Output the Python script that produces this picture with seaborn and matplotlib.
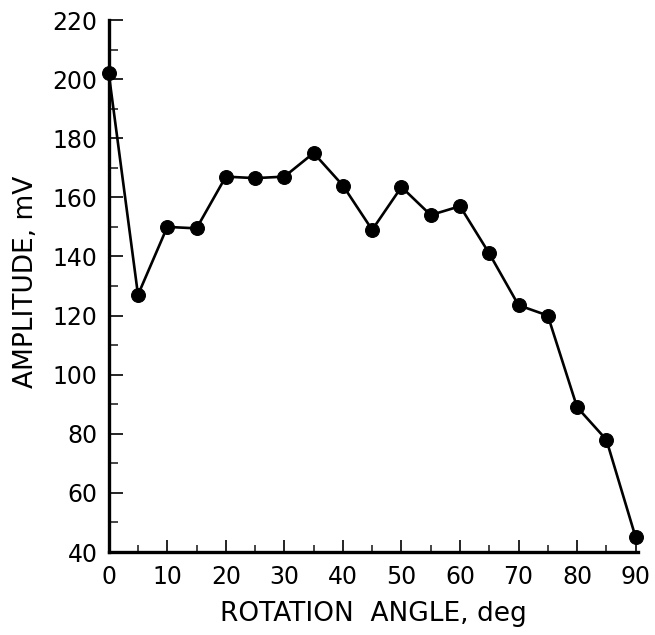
import matplotlib
matplotlib.use("Agg")
import matplotlib.pyplot as plt
import seaborn as sns
import pandas as pd
from matplotlib.ticker import MultipleLocator

angle_deg = [0, 5, 10, 15, 20, 25, 30, 35, 40, 45, 50, 55, 60, 65, 70, 75, 80, 85, 90]
amplitude_mv = [202, 127, 150, 149.5, 167, 166.5, 167, 175, 164, 149, 163.5, 154, 157,
                141, 123.5, 120, 89, 78, 45]
x_ticks = [0, 10, 20, 30, 40, 50, 60, 70, 80, 90]
y_ticks = [40, 60, 80, 100, 120, 140, 160, 180, 200, 220]

df = pd.DataFrame({"angle": angle_deg, "amp": amplitude_mv})

sns.set_style("ticks")
plt.rcParams["font.family"] = ["DejaVu Sans"]

fig = plt.figure(figsize=(6.55, 6.35), dpi=100)
ax = fig.add_axes([0.166, 0.1307, 0.808, 0.8378])

sns.lineplot(data=df, x="angle", y="amp", ax=ax, color="black", linewidth=1.9,
             marker="o", markersize=10, markeredgecolor="black", markerfacecolor="black",
             clip_on=False)

ax.set_xlim(0, 90.4)
ax.set_ylim(40, 220)
ax.set_xticks(x_ticks)
ax.set_yticks(y_ticks)
ax.xaxis.set_minor_locator(MultipleLocator(5))
ax.yaxis.set_minor_locator(MultipleLocator(10))

for s in ["top", "right"]:
    ax.spines[s].set_visible(False)
for s in ["left", "bottom"]:
    ax.spines[s].set_linewidth(2.4)
    ax.spines[s].set_color("black")

ax.tick_params(axis="y", which="major", direction="in", length=10, width=1.2,
               labelsize=17, pad=8, colors="black")
ax.tick_params(axis="y", which="minor", direction="in", length=6.5, width=1.2)
ax.tick_params(axis="x", which="major", direction="in", length=8.5, width=1.2,
               labelsize=17, pad=9, colors="black")
ax.tick_params(axis="x", which="minor", direction="in", length=5, width=1.2)

ax.set_xlabel("ROTATION  ANGLE, deg", fontsize=19, color="black")
ax.set_ylabel("AMPLITUDE, mV", fontsize=19, color="black")
ax.xaxis.set_label_coords(0.5, -0.093)
ax.yaxis.set_label_coords(-0.132, 0.507)

fig.savefig("out.png", dpi=100, facecolor="white")
